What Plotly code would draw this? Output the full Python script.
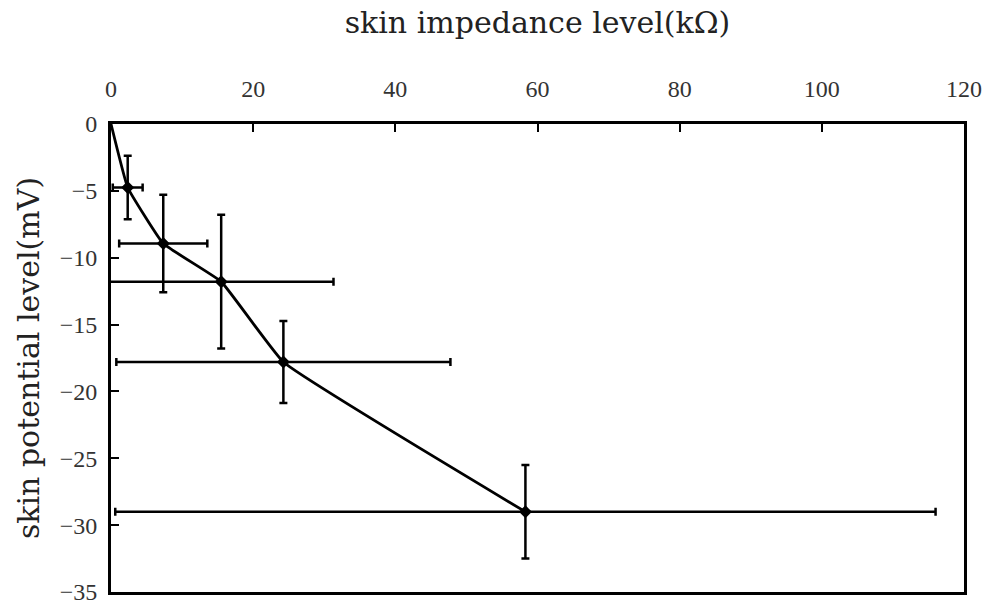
import plotly.graph_objects as go

# data
impedance = [2.35, 7.35, 15.5, 24.25, 58.3]      # kΩ
potential = [-4.75, -8.94, -11.79, -17.8, -29.0]  # mV
impedance_err = [2.1, 6.2, 15.8, 23.5, 57.7]
potential_err = [2.37, 3.65, 5.0, 3.07, 3.5]
origin_x = [0]
origin_y = [0]

title_font = "DejaVu Serif, Liberation Serif, serif"
tick_font = "Liberation Serif, DejaVu Serif, serif"

fig = go.Figure()

fig.add_trace(go.Scatter(
    x=origin_x + impedance,
    y=origin_y + potential,
    mode="lines",
    line=dict(color="black", width=2.8, shape="spline", smoothing=0.3),
    hoverinfo="skip",
    showlegend=False,
))

fig.add_trace(go.Scatter(
    x=impedance,
    y=potential,
    mode="markers",
    marker=dict(symbol="diamond", size=10, color="black"),
    error_x=dict(type="data", array=impedance_err, color="black", thickness=2.5, width=4),
    error_y=dict(type="data", array=potential_err, color="black", thickness=2.5, width=4),
    showlegend=False,
))

fig.update_layout(
    width=987,
    height=605,
    margin=dict(l=111, r=23, t=124, b=13),
    paper_bgcolor="white",
    plot_bgcolor="white",
    xaxis=dict(
        side="top",
        range=[0, 120],
        tickvals=[0, 20, 40, 60, 80, 100, 120],
        ticks="inside",
        ticklen=8,
        tickwidth=2,
        tickcolor="black",
        showline=True,
        linecolor="black",
        linewidth=3,
        mirror=True,
        showgrid=False,
        zeroline=False,
        automargin=False,
        ticklabeloverflow="allow",
        tickfont=dict(family=tick_font, size=24, color="#333"),
        ticklabelstandoff=14,
        title=dict(text="skin impedance level(kΩ)",
                   font=dict(family=title_font, size=30, color="#222"),
                   standoff=34),
    ),
    yaxis=dict(
        range=[-35, 0],
        tickvals=[0, -5, -10, -15, -20, -25, -30, -35],
        ticks="inside",
        ticklen=8,
        tickwidth=2,
        tickcolor="black",
        showline=True,
        linecolor="black",
        linewidth=3,
        mirror=True,
        showgrid=False,
        zeroline=False,
        automargin=False,
        ticklabeloverflow="allow",
        tickfont=dict(family=tick_font, size=24, color="#333"),
        ticklabelstandoff=6,
        title=dict(text="skin potential level(mV)",
                   font=dict(family=title_font, size=30, color="#222"),
                   standoff=12),
    ),
)

fig.write_html(
    "out.html",
    config={"displayModeBar": False},
    post_script="document.body.style.margin='0';document.body.style.overflow='hidden';",
)
